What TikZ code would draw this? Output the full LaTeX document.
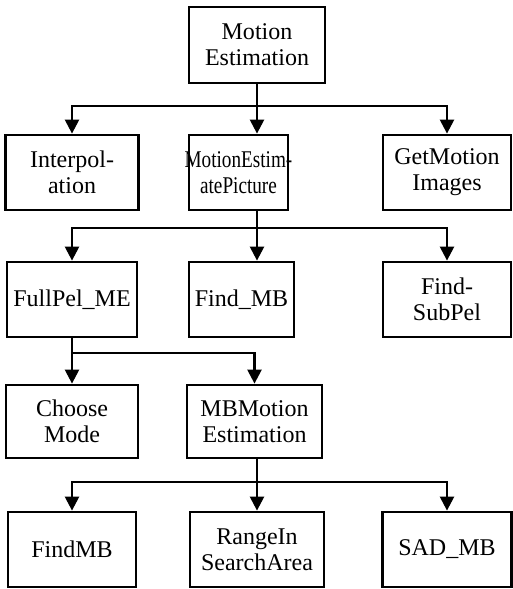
\documentclass[tikz,border=0pt]{standalone}
\usepackage{fontspec}
\setmainfont{Liberation Serif}
\newfontfamily\narrowserif[FakeStretch=0.8]{Liberation Serif}
\usetikzlibrary{arrows.meta}

\tikzset{
    block/.style={draw, line width=1.4pt, align=center, inner sep=0pt,
        minimum height=37.5pt, font=\fontsize{12}{13}\selectfont},
    link/.style={line width=1.2pt},
    arr/.style={link, -{Triangle[width=7pt,length=7pt]}}
}
\newcommand{\squeezed}[1]{\makebox[49.5pt]{\narrowserif #1}}

\begin{document}
\begin{tikzpicture}[x=0.5pt,y=-0.5pt]
    \useasboundingbox (0,0) rectangle (513,589);

    %% top
    \node[block, minimum width=68pt, minimum height=38pt] (motion) at (257,45) {Motion\\Estimation};

    %% level 1
    \node[block, minimum width=66.5pt] (interp) at (72,172.5) {Interpol-\\ation};
    \node[block, minimum width=49.5pt] (mepic) at (238.5,172.5) {\squeezed{MotionEstim-}\\\squeezed{atePicture}};
    \node[block, minimum width=64pt] (getimg) at (447,172.5) {GetMotion\\Images};

    %% level 2
    \node[block, minimum width=65pt] (fullpel) at (72,299.5) {FullPel\_ME};
    \node[block, minimum width=52.5pt] (findmb) at (241.5,299.5) {Find\_MB};
    \node[block, minimum width=64pt] (findsub) at (447,299.5) {Find-\\SubPel};

    %% level 3
    \node[block, minimum width=66pt, minimum height=36.5pt] (choose) at (72,421.5) {Choose\\Mode};
    \node[block, minimum width=67.5pt, minimum height=36.5pt] (mbmot) at (254.5,421.5) {MBMotion\\Estimation};

    %% level 4
    \node[block, minimum width=64pt] (findmbleaf) at (72,549.5) {FindMB};
    \node[block, minimum width=67pt] (range) at (257,549.5) {RangeIn\\SearchArea};
    \node[block, minimum width=64.5pt] (sad) at (447,549.5) {SAD\_MB};

    % branch points
    \coordinate (hubA) at (257,106);
    \coordinate (hubB) at (257,228);
    \coordinate (hubC) at (72,353);
    \coordinate (hubD) at (257,482);

    % connectors
    \draw[link] (motion) -- (hubA);
    \foreach \kid in {interp,getimg}
        \draw[arr] (hubA) -| (\kid);
    \draw[arr] (hubA) -- (hubA |- mepic.north);

    \draw[link] (hubA |- mepic.south) -- (hubB);
    \foreach \kid in {fullpel,findsub}
        \draw[arr] (hubB) -| (\kid);
    \draw[arr] (hubB) -- (hubB |- findmb.north);

    \draw[link] (fullpel) -- (hubC);
    \draw[arr] (hubC) -- (choose);
    \draw[arr] (hubC) -| (mbmot);

    \draw[link] (hubD |- mbmot.south) -- (hubD);
    \foreach \kid in {findmbleaf,range,sad}
        \draw[arr] (hubD) -| (\kid);
\end{tikzpicture}
\end{document}
